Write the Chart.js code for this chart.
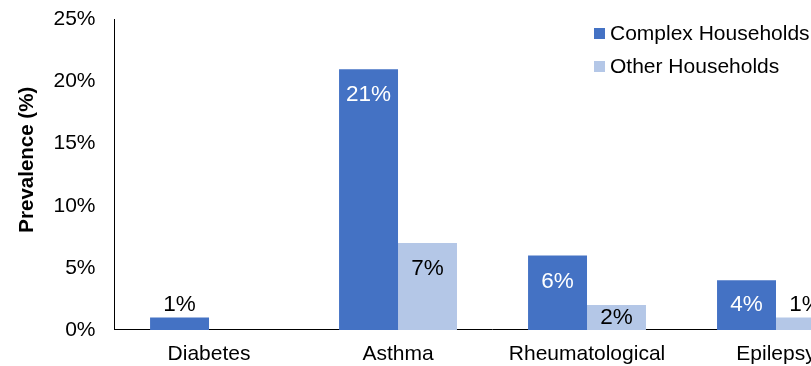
<!DOCTYPE html>
<html>
<head>
<meta charset="utf-8">
<script src="https://cdn.jsdelivr.net/npm/chart.js@4/dist/chart.umd.min.js"></script>
<style>
  html, body { margin: 0; padding: 0; background: #fff; width: 811px; height: 366px; overflow: hidden; }
  canvas { display: block; }
</style>
</head>
<body>
<canvas id="chart" width="880" height="366"></canvas>
<script>
// Prevalence of conditions by household type (%)
const categories = ['Diabetes', 'Asthma', 'Rheumatological', 'Epilepsy'];
const complexHouseholds = [1, 21, 6, 4];
const otherHouseholds = [null, 7, 2, 1];
const seriesNames = ['Complex Households', 'Other Households'];
const yTicks = [0, 5, 10, 15, 20, 25];
const axisTitle = 'Prevalence (%)';

const FONT = '"Liberation Sans", Arial, Helvetica, sans-serif';
const BLUE = '#4472C4';
const LIGHT = '#B4C7E7';

// Value labels: inside the top of tall bars, above short ones
const valueLabels = {
  id: 'valueLabels',
  afterDatasetsDraw(chart) {
    const ctx = chart.ctx;
    ctx.save();
    ctx.font = '22.5px ' + FONT;
    ctx.textAlign = 'center';
    ctx.textBaseline = 'middle';
    chart.data.datasets.forEach((ds, i) => {
      const meta = chart.getDatasetMeta(i);
      meta.data.forEach((bar, j) => {
        const v = ds.data[j];
        if (v === null || v === undefined) return;
        const h = bar.base - bar.y;
        let y, color;
        if (h < 20) {
          y = bar.y - 13;
          color = '#000';
        } else {
          y = Math.min(bar.y + 26, (bar.y + bar.base) / 2);
          color = ds.labelColor;
        }
        ctx.fillStyle = color;
        ctx.fillText(v + '%', bar.x, y);
      });
    });
    ctx.restore();
  }
};

// Legend drawn in the upper right of the plot, plus the rotated y-axis title
const chartDecor = {
  id: 'chartDecor',
  afterDraw(chart) {
    const ctx = chart.ctx;
    const a = chart.chartArea;
    ctx.save();
    ctx.font = '21px ' + FONT;
    ctx.textBaseline = 'middle';
    ctx.textAlign = 'left';
    const x0 = a.right - 276.5;
    chart.data.datasets.forEach((ds, i) => {
      const yTop = a.top + 8.5 + i * 33;
      ctx.fillStyle = ds.backgroundColor;
      ctx.fillRect(x0, yTop, 11, 11);
      ctx.fillStyle = '#000';
      ctx.fillText(ds.label, x0 + 16, yTop + 6);
    });
    ctx.translate(27.5, (a.top + a.bottom) / 2 - 15);
    ctx.rotate(-Math.PI / 2);
    ctx.textAlign = 'center';
    ctx.font = 'bold 20.5px ' + FONT;
    ctx.fillText(axisTitle, 0, 0);
    ctx.restore();
  }
};

// Keep tick-label overhang and outer tick padding from shrinking the plot area
function tightFit(scale) {
  scale.paddingTop = 0;
  scale.paddingBottom = 0;
  scale.paddingLeft = 0;
  scale.paddingRight = 0;
  const pad = scale.options.ticks.padding;
  if (scale.isHorizontal()) {
    scale.height -= pad;
  } else {
    scale.width -= pad;
  }
}

new Chart(document.getElementById('chart'), {
  type: 'bar',
  data: {
    labels: categories,
    datasets: [
      { label: seriesNames[0], data: complexHouseholds, backgroundColor: BLUE, labelColor: '#fff' },
      { label: seriesNames[1], data: otherHouseholds, backgroundColor: LIGHT, labelColor: '#000' }
    ]
  },
  options: {
    responsive: false,
    animation: false,
    devicePixelRatio: 1,
    layout: { autoPadding: false, padding: { top: 19.5, right: 9.5, bottom: 0, left: 53.5 } },
    datasets: { bar: { categoryPercentage: 0.624, barPercentage: 1, borderWidth: 0 } },
    plugins: { legend: { display: false }, tooltip: { enabled: false } },
    scales: {
      x: {
        afterFit: tightFit,
        grid: { display: false, drawTicks: false },
        border: { display: true, color: '#000', width: 1 },
        ticks: { color: '#000', padding: 13, font: { family: FONT, size: 21, lineHeight: 1.1 } }
      },
      y: {
        min: 0,
        max: 25,
        afterFit: tightFit,
        afterBuildTicks(scale) { scale.ticks = yTicks.map(v => ({ value: v })); },
        grid: { display: false, drawTicks: false },
        border: { display: true, color: '#000', width: 1 },
        ticks: { color: '#000', padding: 19, font: { family: FONT, size: 21 }, callback: v => v + '%' }
      }
    }
  },
  plugins: [valueLabels, chartDecor]
});
</script>
</body>
</html>
